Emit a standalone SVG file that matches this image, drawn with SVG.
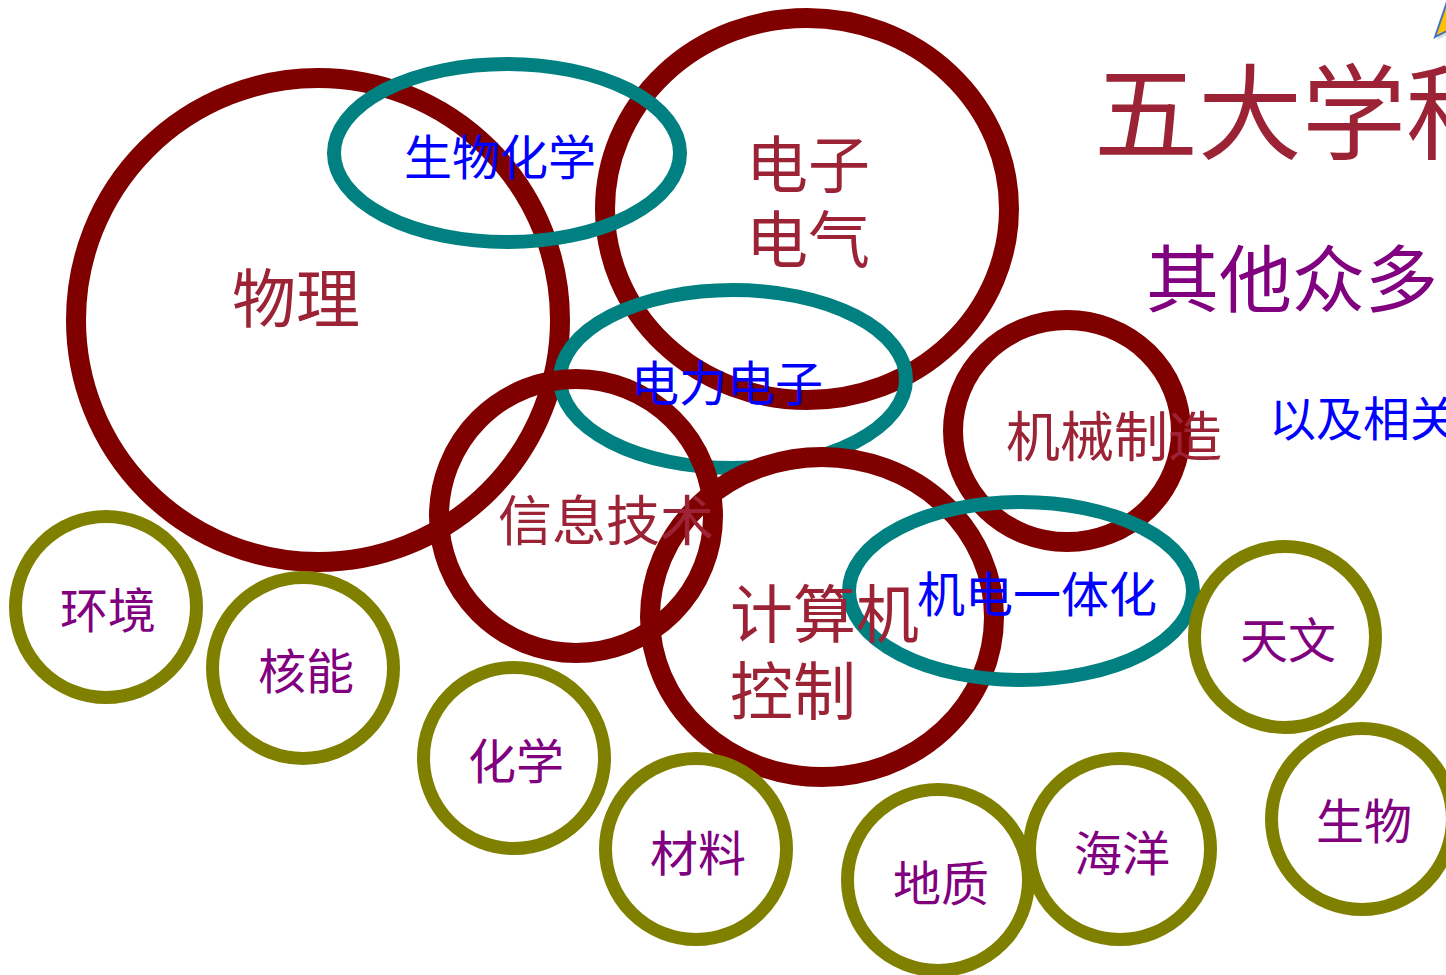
<svg xmlns="http://www.w3.org/2000/svg" width="1446" height="975" viewBox="0 0 1446 975">
<style>
.red{fill:none;stroke:#800000;stroke-width:20}
.teal{fill:none;stroke:#008080;stroke-width:14}
.olive{fill:none;stroke:#808000;stroke-width:13}
text{font-family:"Noto Sans CJK SC","Noto Sans CJK JP",sans-serif}
.cr{fill:#9B2335}
.bl{fill:#0000FF}
.pu{fill:#800080}
.m{text-anchor:middle}
</style>
<rect width="1446" height="975" fill="#ffffff"/>
<g id="corner-shape">
<polygon points="1437,40 1449,5 1449,34" fill="#bbbbbb" opacity="0.5"/>
<polygon points="1435,37 1447,2 1447,31" fill="#FFC000" stroke="#4472C4" stroke-width="2"/>
</g>
<g id="shapes">
<circle id="wuli-ring" class="red" cx="318" cy="320" r="242"/>
<ellipse id="dianzi-ring" class="red" cx="807" cy="209" rx="202" ry="191"/>
<ellipse id="shenghua-ring" class="teal" cx="507" cy="153" rx="173" ry="89"/>
<ellipse id="dianli-ring" class="teal" cx="733" cy="379" rx="173" ry="89"/>
<circle id="xinxi-ring" class="red" cx="576" cy="516" r="137"/>
<ellipse id="jisuanji-ring" class="red" cx="822" cy="617" rx="172" ry="160"/>
<ellipse id="jixie-ring" class="red" cx="1067" cy="431" rx="114" ry="111"/>
<ellipse id="jidian-ring" class="teal" cx="1021" cy="591" rx="172" ry="89"/>
<circle id="huanjing-ring" class="olive" cx="106" cy="607" r="90.5"/>
<circle id="heneng-ring" class="olive" cx="303" cy="668" r="90.5"/>
<circle id="huaxue-ring" class="olive" cx="514" cy="758" r="90.5"/>
<circle id="cailiao-ring" class="olive" cx="696" cy="849" r="90.5"/>
<circle id="dizhi-ring" class="olive" cx="938" cy="880" r="90.5"/>
<circle id="haiyang-ring" class="olive" cx="1120" cy="849" r="90.5"/>
<circle id="tianwen-ring" class="olive" cx="1285" cy="637" r="90.5"/>
<circle id="shengwu-ring" class="olive" cx="1362" cy="819" r="90.5"/>
</g>
<g id="labels">
<text id="wuli" class="cr m" x="296" y="322" font-size="64">物理</text>
<text id="dianzi" class="cr" x="746" y="188" font-size="62">电子<tspan x="746" y="263">电气</tspan></text>
<text id="shenghua" class="bl m" x="500" y="175" font-size="48">生物化学</text>
<text id="dianli" class="bl m" x="727" y="401" font-size="48">电力电子</text>
<text id="jixie" class="cr m" x="1114" y="457" font-size="54">机械制造</text>
<text id="xinxi" class="cr m" x="606" y="541" font-size="54">信息技术</text>
<text id="jisuanji" class="cr" x="730" y="637" font-size="63">计算机<tspan x="730" y="714">控制</tspan></text>
<text id="jidian" class="bl m" x="1037" y="612" font-size="48">机电一体化</text>
<text id="title" class="cr" x="1094" y="152" font-size="104">五大学科</text>
<text id="other" class="pu" x="1146" y="306" font-size="73">其他众多</text>
<text id="related" class="bl" x="1269" y="436" font-size="47">以及相关</text>
<text id="huanjing" class="pu m" x="108" y="628" font-size="48">环境</text>
<text id="heneng" class="pu m" x="306" y="689" font-size="48">核能</text>
<text id="huaxue" class="pu m" x="516" y="779" font-size="48">化学</text>
<text id="cailiao" class="pu m" x="698" y="871" font-size="48">材料</text>
<text id="dizhi" class="pu m" x="941" y="901" font-size="48">地质</text>
<text id="haiyang" class="pu m" x="1122" y="871" font-size="48">海洋</text>
<text id="tianwen" class="pu m" x="1288" y="658" font-size="48">天文</text>
<text id="shengwu" class="pu m" x="1364" y="839" font-size="48">生物</text>
</g>
</svg>
